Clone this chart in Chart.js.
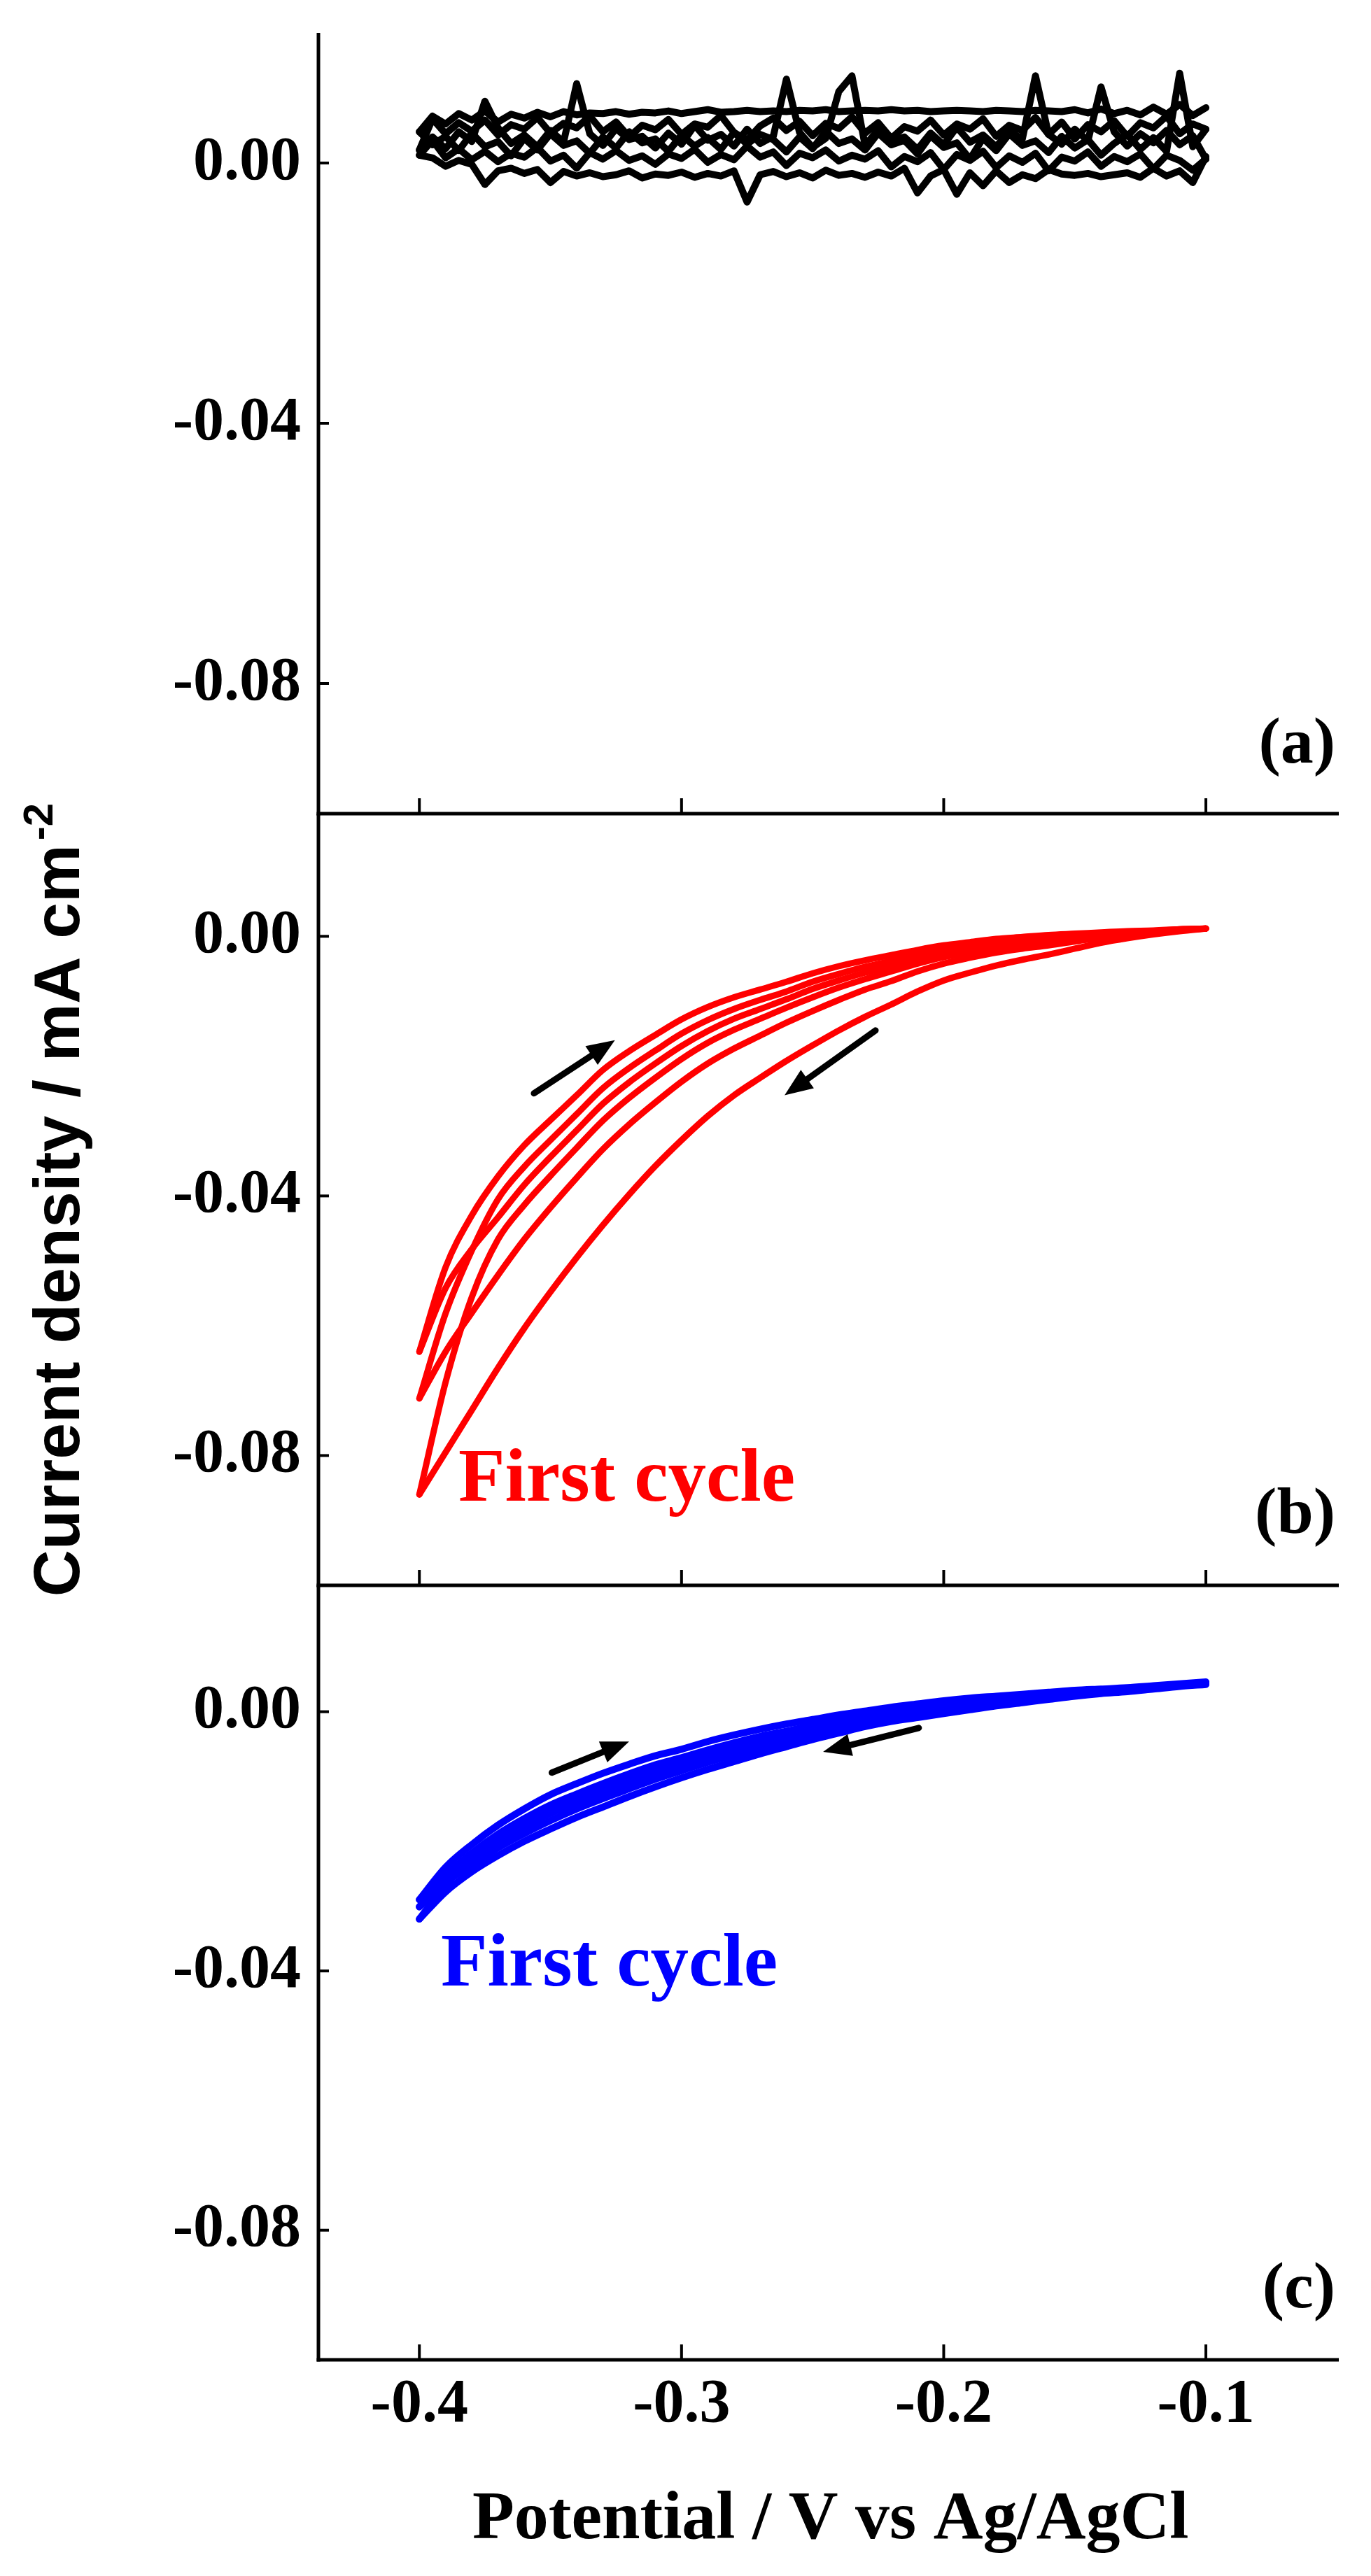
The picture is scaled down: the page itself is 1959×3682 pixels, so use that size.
<!DOCTYPE html>
<html>
<head>
<meta charset="utf-8">
<script src="https://cdn.jsdelivr.net/npm/chart.js@4.4.1/dist/chart.umd.min.js"></script>
<style>
html,body{margin:0;padding:0;background:#fff;}
#wrap{position:relative;width:1959px;height:3682px;background:#fff;overflow:hidden;}
#wrap canvas{position:absolute;left:0;}
</style>
</head>
<body>
<div id="wrap">
<canvas id="cA" width="1959" height="1200" style="top:0px;width:1959px;height:1200px"></canvas>
<canvas id="cB" width="1959" height="1200" style="top:1100px;width:1959px;height:1200px"></canvas>
<canvas id="cC" width="1959" height="1482" style="top:2200px;width:1959px;height:1482px"></canvas>
</div>
<script>
// ---------------- DATA ----------------
const xTickValues = [-0.4, -0.3, -0.2, -0.1];
const yTickValues = [0.00, -0.04, -0.08];
const X_MIN = -0.4385, X_MAX = -0.0493;

// potentials for panels (b) and (c), sweep from -0.10 V down to -0.40 V
const potentials = [-0.10,-0.11,-0.12,-0.13,-0.14,-0.15,-0.16,-0.17,-0.18,-0.19,-0.20,-0.21,-0.22,-0.23,-0.24,-0.25,-0.26,-0.27,-0.28,-0.29,-0.30,-0.31,-0.32,-0.33,-0.34,-0.35,-0.36,-0.37,-0.38,-0.39,-0.40];

// potentials for panel (a), finer step, sweep down
const potentialsFine = [-0.100,-0.105,-0.110,-0.115,-0.120,-0.125,-0.130,-0.135,-0.140,-0.145,-0.150,-0.155,-0.160,-0.165,-0.170,-0.175,-0.180,-0.185,-0.190,-0.195,-0.200,-0.205,-0.210,-0.215,-0.220,-0.225,-0.230,-0.235,-0.240,-0.245,-0.250,-0.255,-0.260,-0.265,-0.270,-0.275,-0.280,-0.285,-0.290,-0.295,-0.300,-0.305,-0.310,-0.315,-0.320,-0.325,-0.330,-0.335,-0.340,-0.345,-0.350,-0.355,-0.360,-0.365,-0.370,-0.375,-0.380,-0.385,-0.390,-0.395,-0.400];
const potentialsFineUp = potentialsFine.slice().reverse();

// Panel (a) black: sweeps 1,3,5 listed along potentialsFine, sweeps 2,4,6 along potentialsFineUp
const blackSweep1 = [0.0010,-0.0030,-0.0012,-0.0020,-0.0008,-0.0022,-0.0015,-0.0018,-0.0021,-0.0016,-0.0019,-0.0017,-0.0010,-0.0024,-0.0018,-0.0030,-0.0012,-0.0035,-0.0015,-0.0048,-0.0010,-0.0020,-0.0046,-0.0008,-0.0020,-0.0014,-0.0022,-0.0016,-0.0019,-0.0011,-0.0023,-0.0015,-0.0021,-0.0013,-0.0018,-0.0060,-0.0012,-0.0020,-0.0016,-0.0022,-0.0014,-0.0019,-0.0017,-0.0023,-0.0012,-0.0018,-0.0021,-0.0015,-0.0020,-0.0013,-0.0030,-0.0010,-0.0016,-0.0008,-0.0012,-0.0033,-0.0002,0.0004,-0.0005,0.0008,0.0012];
const blackSweep2 = [0.0012,0.0035,0.0008,0.0022,0.0005,0.0018,0.0002,0.0015,0.0009,0.0024,0.0003,0.0012,-0.0008,0.0016,0.0006,0.0019,0.0004,0.0011,-0.0002,0.0014,0.0007,0.0021,0.0001,0.0013,0.0005,0.0026,0.0009,0.0017,-0.0004,0.0015,0.0008,0.0020,0.0003,0.0012,0.0006,0.0019,-0.0006,0.0010,0.0002,0.0016,-0.0010,0.0013,0.0004,0.0018,-0.0007,0.0011,0.0001,0.0015,-0.0012,0.0009,0.0003,0.0017,-0.0005,0.0010,0.0002,0.0014,-0.0009,0.0012,0.0004,-0.0011,0.0006];
const blackSweep3 = [0.0006,0.0042,0.0028,0.0050,0.0031,0.0045,0.0026,0.0048,0.0117,0.0034,0.0052,0.0029,0.0044,0.0134,0.0037,0.0049,0.0025,0.0043,0.0032,0.0055,0.0028,0.0046,0.0021,0.0040,0.0033,0.0051,0.0027,0.0134,0.0110,0.0038,0.0024,0.0047,0.0129,0.0041,0.0030,0.0052,0.0026,0.0044,0.0035,0.0058,0.0029,0.0046,0.0023,0.0041,0.0036,0.0053,0.0027,0.0045,0.0122,0.0032,0.0050,0.0025,0.0043,0.0030,0.0054,0.0095,0.0033,0.0048,0.0022,0.0040,0.0020];
const blackSweep4 = [0.0020,0.0068,0.0045,0.0062,0.0049,0.0066,0.0043,0.0059,0.0052,0.0070,0.0046,0.0061,0.0054,0.0072,0.0048,0.0063,0.0040,0.0058,0.0051,0.0067,0.0044,0.0060,0.0055,0.0073,0.0047,0.0035,0.0057,0.0069,0.0050,0.0064,0.0042,0.0061,0.0053,0.0071,0.0046,0.0062,0.0038,0.0056,0.0049,0.0066,0.0043,0.0060,0.0052,0.0068,0.0041,0.0058,0.0050,0.0070,0.0044,0.0063,0.0037,0.0059,0.0048,0.0065,0.0041,0.0062,0.0054,0.0072,0.0045,0.0060,0.0052];
const blackSweep5 = [0.0052,0.0025,0.0138,0.0018,0.0039,0.0021,0.0044,0.0030,0.0012,0.0036,0.0023,0.0041,0.0016,0.0034,0.0027,0.0045,0.0019,0.0038,0.0006,0.0031,0.0024,0.0042,0.0014,0.0035,0.0028,0.0046,0.0020,0.0037,0.0030,0.0049,0.0022,0.0040,0.0017,0.0036,0.0044,0.0029,0.0047,0.0021,0.0039,0.0026,0.0043,0.0018,0.0037,0.0031,0.0048,0.0023,0.0040,0.0015,0.0034,0.0027,0.0045,0.0020,0.0038,0.0011,0.0033,0.0025,0.0046,0.0019,0.0041,0.0028,0.0048];
const blackSweep6 = [0.0048,0.0072,0.0060,0.0076,0.0066,0.0080,0.0063,0.0075,0.0069,0.0078,0.0071,0.0079,0.0074,0.0077,0.0076,0.0079,0.0075,0.0078,0.0077,0.0080,0.0076,0.0079,0.0082,0.0078,0.0079,0.0081,0.0079,0.0080,0.0079,0.0081,0.0080,0.0082,0.0079,0.0080,0.0081,0.0080,0.0082,0.0080,0.0081,0.0079,0.0080,0.0081,0.0080,0.0079,0.0081,0.0080,0.0079,0.0081,0.0080,0.0079,0.0082,0.0077,0.0083,0.0076,0.0081,0.0074,0.0086,0.0075,0.0090,0.0073,0.0085];

// Panel (b) red, all listed along potentials (-0.10 -> -0.40)
const redCycle1Cathodic = [0.0012,0.0008,0.0003,-0.0003,-0.0010,-0.0019,-0.0028,-0.0036,-0.0045,-0.0056,-0.0068,-0.0085,-0.0105,-0.0124,-0.0145,-0.0168,-0.0192,-0.0218,-0.0245,-0.0277,-0.0314,-0.0354,-0.0398,-0.0445,-0.0495,-0.0548,-0.0604,-0.0665,-0.0730,-0.0795,-0.0860];
const redCycle1Anodic = [0.0012,0.0010,0.0007,0.0004,0.0001,-0.0004,-0.0008,-0.0013,-0.0018,-0.0025,-0.0032,-0.0042,-0.0054,-0.0066,-0.0079,-0.0094,-0.0110,-0.0127,-0.0144,-0.0164,-0.0189,-0.0218,-0.0249,-0.0284,-0.0326,-0.0369,-0.0414,-0.0467,-0.0556,-0.0687,-0.0860];
const redCycle2Cathodic = [0.0012,0.0009,0.0006,0.0002,-0.0002,-0.0008,-0.0014,-0.0019,-0.0025,-0.0033,-0.0042,-0.0054,-0.0069,-0.0082,-0.0098,-0.0115,-0.0133,-0.0153,-0.0173,-0.0196,-0.0224,-0.0256,-0.0290,-0.0328,-0.0372,-0.0418,-0.0467,-0.0522,-0.0580,-0.0640,-0.0712];
const redCycle2Anodic = [0.0012,0.0011,0.0008,0.0007,0.0004,0.0001,-0.0002,-0.0005,-0.0009,-0.0015,-0.0021,-0.0029,-0.0038,-0.0047,-0.0058,-0.0070,-0.0085,-0.0098,-0.0112,-0.0129,-0.0150,-0.0176,-0.0203,-0.0234,-0.0274,-0.0314,-0.0355,-0.0405,-0.0484,-0.0581,-0.0712];
const redCycle3Cathodic = [0.0012,0.0010,0.0008,0.0006,0.0003,-0.0001,-0.0005,-0.0009,-0.0013,-0.0019,-0.0026,-0.0035,-0.0046,-0.0056,-0.0068,-0.0081,-0.0097,-0.0112,-0.0127,-0.0146,-0.0169,-0.0196,-0.0225,-0.0258,-0.0299,-0.0340,-0.0383,-0.0433,-0.0482,-0.0542,-0.0640];
const redCycle3Anodic = [0.0012,0.0011,0.0009,0.0008,0.0006,0.0004,0.0002,-0.0001,-0.0004,-0.0009,-0.0014,-0.0021,-0.0029,-0.0037,-0.0046,-0.0057,-0.0070,-0.0082,-0.0094,-0.0109,-0.0128,-0.0152,-0.0177,-0.0206,-0.0245,-0.0283,-0.0322,-0.0370,-0.0430,-0.0510,-0.0640];

// Panel (c) blue, all listed along potentials (-0.10 -> -0.40)
const blueCycle1Cathodic = [0.0042,0.0039,0.0035,0.0031,0.0028,0.0024,0.0019,0.0014,0.0009,0.0003,-0.0003,-0.0009,-0.0015,-0.0023,-0.0033,-0.0043,-0.0054,-0.0065,-0.0077,-0.0089,-0.0102,-0.0116,-0.0131,-0.0147,-0.0163,-0.0181,-0.0200,-0.0222,-0.0247,-0.0278,-0.0320];
const blueCycle1Anodic = [0.0044,0.0041,0.0037,0.0034,0.0031,0.0028,0.0024,0.0020,0.0016,0.0011,0.0006,0.0000,-0.0005,-0.0012,-0.0020,-0.0029,-0.0038,-0.0048,-0.0059,-0.0070,-0.0082,-0.0094,-0.0109,-0.0124,-0.0140,-0.0157,-0.0178,-0.0201,-0.0228,-0.0267,-0.0320];
const blueCycle2Cathodic = [0.0043,0.0040,0.0036,0.0033,0.0030,0.0026,0.0022,0.0017,0.0013,0.0008,0.0002,-0.0004,-0.0010,-0.0017,-0.0026,-0.0035,-0.0045,-0.0056,-0.0067,-0.0078,-0.0091,-0.0104,-0.0119,-0.0134,-0.0150,-0.0168,-0.0188,-0.0210,-0.0237,-0.0263,-0.0301];
const blueCycle2Anodic = [0.0045,0.0042,0.0039,0.0035,0.0033,0.0030,0.0027,0.0023,0.0020,0.0016,0.0011,0.0006,0.0000,-0.0006,-0.0013,-0.0021,-0.0030,-0.0038,-0.0048,-0.0059,-0.0071,-0.0082,-0.0096,-0.0111,-0.0127,-0.0144,-0.0165,-0.0189,-0.0218,-0.0253,-0.0301];
const blueCycle3Cathodic = [0.0044,0.0041,0.0038,0.0034,0.0032,0.0029,0.0025,0.0021,0.0017,0.0013,0.0008,0.0003,-0.0003,-0.0010,-0.0018,-0.0026,-0.0035,-0.0044,-0.0055,-0.0065,-0.0078,-0.0090,-0.0104,-0.0118,-0.0134,-0.0152,-0.0173,-0.0196,-0.0224,-0.0250,-0.0290];
const blueCycle3Anodic = [0.0046,0.0043,0.0040,0.0037,0.0035,0.0033,0.0030,0.0027,0.0024,0.0021,0.0017,0.0012,0.0007,0.0001,-0.0005,-0.0012,-0.0019,-0.0027,-0.0036,-0.0046,-0.0058,-0.0068,-0.0081,-0.0095,-0.0111,-0.0128,-0.0150,-0.0175,-0.0205,-0.0240,-0.0290];

// sweep-direction arrows: [tailPotential, tailCurrent, headPotential, headCurrent]
const arrowsB = [[-0.3563,-0.0242,-0.3254,-0.0160],[-0.2260,-0.0145,-0.2607,-0.0245]];
const arrowsC = [[-0.3495,-0.0094,-0.3200,-0.0046],[-0.2095,-0.0025,-0.2460,-0.0062]];

const panelLabels = ['(a)', '(b)', '(c)'];
const annotationText = 'First cycle';
const xTitle = 'Potential / V vs Ag/AgCl';
const yTitleMain = 'Current density / mA cm';
const yTitleSup = '-2';

// ---------------- RENDER ----------------
const SERIF = '"Liberation Serif","Times New Roman",serif';
const SANS = '"Liberation Sans",Arial,sans-serif';

function pts(xs, ys) { return xs.map((x, i) => ({ x: x, y: ys[i] })); }
function ds(xs, ys, color, width, smooth) {
  const d = { data: pts(xs, ys), borderColor: color, borderWidth: width, pointRadius: 0, fill: false,
              tension: 0, borderJoinStyle: 'round', borderCapStyle: 'round' };
  if (smooth) d.cubicInterpolationMode = 'monotone';
  return d;
}

const framePlugin = {
  id: 'frame',
  afterDraw(chart) {
    const { ctx, chartArea: ca, scales } = chart;
    const xs = scales.x, ys = scales.y;
    ctx.save();
    ctx.strokeStyle = '#000';
    ctx.lineCap = 'butt';
    ctx.lineWidth = 5;
    ctx.beginPath(); ctx.moveTo(ca.left, ca.top); ctx.lineTo(ca.left, ca.bottom + 2.5); ctx.stroke();
    ctx.beginPath(); ctx.moveTo(ca.left - 2.5, ca.bottom); ctx.lineTo(ca.right, ca.bottom); ctx.stroke();
    ctx.lineWidth = 4;
    yTickValues.forEach(v => {
      const py = ys.getPixelForValue(v);
      ctx.beginPath(); ctx.moveTo(ca.left, py); ctx.lineTo(ca.left + 15, py); ctx.stroke();
    });
    xTickValues.forEach(v => {
      const px = xs.getPixelForValue(v);
      ctx.beginPath(); ctx.moveTo(px, ca.bottom); ctx.lineTo(px, ca.bottom - 22); ctx.stroke();
    });
    ctx.restore();
  }
};

function arrowPlugin(arrows) {
  return {
    id: 'arrows',
    afterDatasetsDraw(chart) {
      const { ctx, scales } = chart;
      ctx.save();
      ctx.strokeStyle = '#000'; ctx.fillStyle = '#000';
      arrows.forEach(a => {
        const x1 = scales.x.getPixelForValue(a[0]), y1 = scales.y.getPixelForValue(a[1]);
        const x2 = scales.x.getPixelForValue(a[2]), y2 = scales.y.getPixelForValue(a[3]);
        const ang = Math.atan2(y2 - y1, x2 - x1);
        const hl = 40, hw = 16;
        const bx = x2 - hl * Math.cos(ang), by = y2 - hl * Math.sin(ang);
        ctx.lineWidth = 9; ctx.lineCap = 'round';
        ctx.beginPath(); ctx.moveTo(x1, y1); ctx.lineTo(bx, by); ctx.stroke();
        ctx.beginPath();
        ctx.moveTo(x2, y2);
        ctx.lineTo(bx + hw * Math.sin(ang), by - hw * Math.cos(ang));
        ctx.lineTo(bx - hw * Math.sin(ang), by + hw * Math.cos(ang));
        ctx.closePath(); ctx.fill();
      });
      ctx.restore();
    }
  };
}

function textPlugin(offsetTop, items, drawYTitle) {
  return {
    id: 'texts',
    afterDraw(chart) {
      const ctx = chart.ctx;
      ctx.save();
      items.forEach(t => {
        ctx.font = t.font; ctx.fillStyle = t.color; ctx.textAlign = t.align; ctx.textBaseline = 'alphabetic';
        ctx.fillText(t.text, t.x, t.y - offsetTop);
      });
      if (drawYTitle) {
        ctx.translate(113, 1715 - offsetTop);
        ctx.rotate(-Math.PI / 2);
        const mainFont = 'bold 93px ' + SANS, supFont = 'bold 60px ' + SANS;
        ctx.font = mainFont; const wm = ctx.measureText(yTitleMain).width;
        ctx.font = supFont; const wsup = ctx.measureText(yTitleSup).width;
        const total = wm + 6 + wsup;
        ctx.fillStyle = '#000'; ctx.textAlign = 'left'; ctx.textBaseline = 'alphabetic';
        ctx.font = mainFont; ctx.fillText(yTitleMain, -total / 2, 0);
        ctx.font = supFont; ctx.fillText(yTitleSup, -total / 2 + wm + 6, -38);
      }
      ctx.restore();
    }
  };
}

function zeroPad(s) { s.paddingTop = 0; s.paddingBottom = 0; s.paddingLeft = 0; s.paddingRight = 0; }

function makeChart(id, cfg) {
  const xOpts = {
    type: 'linear', min: X_MIN, max: X_MAX, display: cfg.showX,
    grid: { display: false, drawTicks: false }, border: { display: false },
    afterBuildTicks: s => { s.ticks = xTickValues.map(v => ({ value: v })); },
    afterFit: s => { zeroPad(s); if (cfg.showX) s.height = cfg.xHeight; },
    ticks: { autoSkip: false, maxRotation: 0, padding: 12, color: '#000',
             font: { family: SERIF, size: 88, weight: 'bold' },
             callback: v => Number(v).toFixed(1) }
  };
  return new Chart(document.getElementById(id), {
    type: 'line',
    data: { datasets: cfg.datasets },
    options: {
      responsive: false, animation: false, devicePixelRatio: 1,
      layout: { padding: { top: cfg.padTop, bottom: cfg.padBottom, left: 0, right: 46 } },
      plugins: { legend: { display: false }, tooltip: { enabled: false }, title: { display: false } },
      scales: {
        x: xOpts,
        y: {
          type: 'linear', min: -0.1, max: cfg.yMax,
          grid: { display: false, drawTicks: false }, border: { display: false },
          afterFit: s => { s.width = 455; zeroPad(s); },
          afterBuildTicks: s => { s.ticks = yTickValues.map(v => ({ value: v })); },
          ticks: { padding: 25, color: '#000', font: { family: SERIF, size: 88, weight: 'bold' },
                   callback: v => Number(v).toFixed(2) }
        }
      }
    },
    plugins: cfg.plugins
  });
}

makeChart('cA', {
  showX: false, padTop: 47, padBottom: 37, yMax: 0.0200,
  datasets: [
    ds(potentialsFine, blackSweep1, '#000', 10), ds(potentialsFineUp, blackSweep2, '#000', 10),
    ds(potentialsFine, blackSweep3, '#000', 10), ds(potentialsFineUp, blackSweep4, '#000', 10),
    ds(potentialsFine, blackSweep5, '#000', 10), ds(potentialsFineUp, blackSweep6, '#000', 10)
  ],
  plugins: [framePlugin, textPlugin(0, [
    { text: panelLabels[0], x: 1908, y: 1090, font: 'bold 94px ' + SERIF, color: '#000', align: 'right' }
  ], false)]
});

makeChart('cB', {
  showX: false, padTop: 63, padBottom: 34, yMax: 0.0189,
  datasets: [
    ds(potentials, redCycle1Cathodic, '#ff0000', 9, true), ds(potentials, redCycle1Anodic, '#ff0000', 9, true),
    ds(potentials, redCycle2Cathodic, '#ff0000', 9, true), ds(potentials, redCycle2Anodic, '#ff0000', 9, true),
    ds(potentials, redCycle3Cathodic, '#ff0000', 9, true), ds(potentials, redCycle3Anodic, '#ff0000', 9, true)
  ],
  plugins: [framePlugin, arrowPlugin(arrowsB), textPlugin(1100, [
    { text: panelLabels[1], x: 1908, y: 2191, font: 'bold 94px ' + SERIF, color: '#000', align: 'right' },
    { text: annotationText, x: 655, y: 2145, font: 'bold 109px ' + SERIF, color: '#ff0000', align: 'left' }
  ], true)]
});

makeChart('cC', {
  showX: true, xHeight: 309, padTop: 66, padBottom: 0, yMax: 0.0195,
  datasets: [
    ds(potentials, blueCycle1Cathodic, '#0000ff', 10, true), ds(potentials, blueCycle1Anodic, '#0000ff', 10, true),
    ds(potentials, blueCycle2Cathodic, '#0000ff', 10, true), ds(potentials, blueCycle2Anodic, '#0000ff', 10, true),
    ds(potentials, blueCycle3Cathodic, '#0000ff', 10, true), ds(potentials, blueCycle3Anodic, '#0000ff', 10, true)
  ],
  plugins: [framePlugin, arrowPlugin(arrowsC), textPlugin(2200, [
    { text: panelLabels[2], x: 1908, y: 3298, font: 'bold 94px ' + SERIF, color: '#000', align: 'right' },
    { text: annotationText, x: 630, y: 2838, font: 'bold 109px ' + SERIF, color: '#0000ff', align: 'left' },
    { text: xTitle, x: 675, y: 3628, font: 'bold 98px ' + SERIF, color: '#000', align: 'left' }
  ], false)]
});
</script>
</body>
</html>
